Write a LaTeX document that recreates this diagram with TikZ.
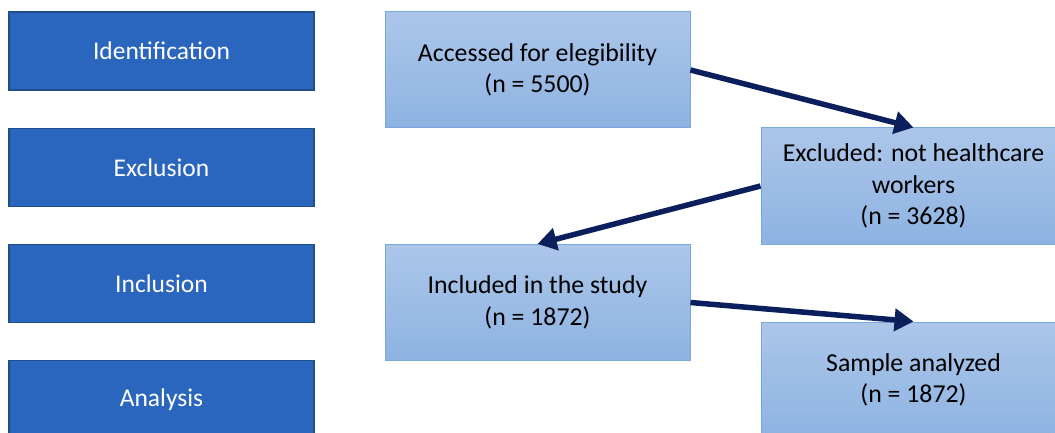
\documentclass[tikz,border=0pt]{standalone}
\usepackage{fontspec}
\setmainfont{Carlito}
\usetikzlibrary{arrows.meta}
\definecolor{phase}{HTML}{2A66BE}
\definecolor{phaseborder}{HTML}{1F4E8C}
\definecolor{boxtop}{HTML}{ACC6E9}
\definecolor{boxbot}{HTML}{8DB3E2}
\definecolor{boxborder}{HTML}{7AA7DE}
\definecolor{navy}{HTML}{0A1F5C}
\tikzset{
  phasebox/.style={draw=phaseborder, line width=1.2pt, fill=phase, text=white,
    minimum width=305pt, minimum height=78pt, inner sep=0pt,
    font=\fontsize{25.5}{31}\selectfont},
  flowbox/.style={draw=boxborder, line width=1pt, top color=boxtop, bottom color=boxbot,
    minimum width=305pt, minimum height=116pt, inner sep=0pt, align=center,
    text=black, font=\fontsize{25.8}{31.5}\selectfont},
  flowarrow/.style={draw=navy, line width=5.5pt,
    -{Triangle[length=19pt,width=22pt]}}
}
\begin{document}
\begin{tikzpicture}[x=1pt,y=-1pt]
\useasboundingbox (0,0) rectangle (1055,433);
\clip (0,0) rectangle (1055,433);
\node[phasebox] (p1) at (161.5,51) {Identification};
\node[phasebox] (p2) at (161.5,167.5) {Exclusion};
\node[phasebox] (p3) at (161.5,283.5) {Inclusion};
\node[phasebox] (p4) at (161.5,399.5) {Analysis};
\node[flowbox] (a) at (537.5,70) {Accessed for elegibility\\(n = 5500)};
\node[flowbox] (b) at (913.5,186) {Excluded: not healthcare\\workers\\(n = 3628)};
\node[flowbox] (c) at (537.5,302.5) {Included in the study\\(n = 1872)};
\node[flowbox] (d) at (913.5,380) {Sample analyzed\\(n = 1872)};
\draw[flowarrow] (a.east) -- (b.north);
\draw[flowarrow] (b.west) -- (c.north);
\draw[flowarrow] (c.east) -- (d.north);
\end{tikzpicture}
\end{document}
